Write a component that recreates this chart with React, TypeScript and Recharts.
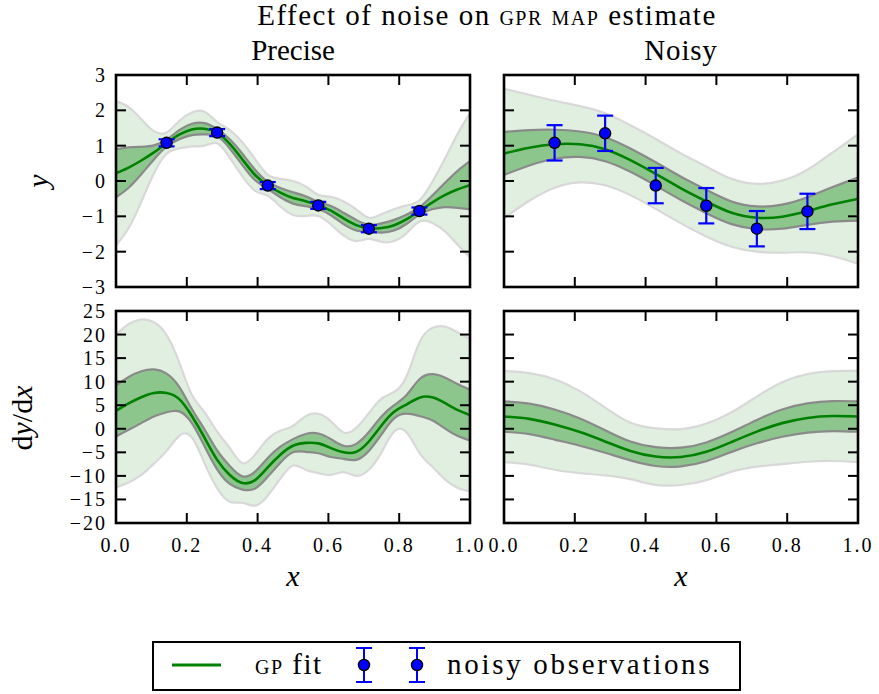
import React from 'react';
import { ComposedChart, Area, Line, Scatter, ErrorBar, XAxis, YAxis } from 'recharts';

// ---------- data ----------
const xFine = [0, 0.0357, 0.0714, 0.1071, 0.1429, 0.1786, 0.2143, 0.25, 0.2857, 0.3214, 0.3571, 0.3929, 0.4286, 0.4643, 0.5, 0.5357, 0.5714, 0.6071, 0.6429, 0.6786, 0.7143, 0.75, 0.7857, 0.8214, 0.8571, 0.8929, 0.9286, 0.9643, 1];
const xCoarse = [0, 0.0714, 0.1429, 0.2143, 0.2857, 0.3571, 0.4286, 0.5, 0.5714, 0.6429, 0.7143, 0.7857, 0.8571, 0.9286, 1];

// Precise: y
const preciseMeanY = [0.22, 0.38, 0.58, 0.81, 1.07, 1.31, 1.46, 1.48, 1.37, 1.05, 0.61, 0.17, -0.12, -0.33, -0.48, -0.57, -0.69, -0.84, -1.06, -1.25, -1.34, -1.33, -1.25, -1.08, -0.85, -0.61, -0.40, -0.24, -0.12];
const preciseSdY = [0.68, 0.57, 0.39, 0.2, 0.1, 0.13, 0.16, 0.16, 0.1, 0.13, 0.16, 0.15, 0.1, 0.13, 0.16, 0.14, 0.1, 0.13, 0.16, 0.15, 0.1, 0.13, 0.15, 0.13, 0.1, 0.19, 0.34, 0.52, 0.68];
// Precise: dy/dx
const preciseMeanD = [3.8, 5.4, 6.7, 7.6, 7.6, 6.3, 2.7, -1.9, -6.6, -9.8, -11.5, -10.9, -8.2, -5.5, -3.6, -3.0, -3.1, -4.1, -5.0, -4.9, -2.7, 0.7, 3.6, 5.2, 6.6, 6.7, 5.5, 4.0, 2.9];
const preciseSdD = [5.4, 5.6, 5.5, 5.0, 4.1, 2.6, 1.5, 1.8, 2.0, 1.9, 1.4, 1.8, 2.0, 1.7, 1.4, 1.9, 2.1, 1.9, 1.4, 1.7, 2.0, 1.9, 1.4, 2.0, 3.9, 4.9, 5.4, 5.5, 5.4];

// Noisy: y
const noisyMeanY = [0.78, 0.94, 1.04, 1.04, 0.90, 0.59, 0.20, -0.21, -0.58, -0.90, -1.04, -1.01, -0.85, -0.66, -0.51];
const noisySdY = [0.61, 0.5, 0.41, 0.36, 0.34, 0.33, 0.33, 0.33, 0.33, 0.32, 0.32, 0.34, 0.39, 0.49, 0.61];
// Noisy: dy/dx
const noisyMeanD = [2.6, 2.1, 0.9, -0.7, -2.7, -4.7, -5.9, -6.0, -4.9, -2.8, -0.6, 1.2, 2.3, 2.7, 2.6];
const noisySdD = [3.23, 3.24, 3.2, 2.9, 2.4, 2.0, 2.0, 1.98, 2.0, 2.1, 2.48, 2.9, 3.1, 3.18, 3.23];

// Observations
const obsX = [0.1429, 0.2857, 0.4286, 0.5714, 0.7143, 0.8571];
const preciseObsY = [1.08, 1.37, -0.13, -0.69, -1.35, -0.85];
const preciseObsErr = [0.1, 0.1, 0.1, 0.1, 0.1, 0.1];
const noisyObsY = [1.08, 1.35, -0.13, -0.70, -1.35, -0.86];
const noisyObsErr = [0.5, 0.5, 0.5, 0.5, 0.5, 0.5];

const xTicks = [0, 0.2, 0.4, 0.6, 0.8, 1.0];
const yTicksTop = [-3, -2, -1, 0, 1, 2, 3];
const yTicksBottom = [-20, -15, -10, -5, 0, 5, 10, 15, 20, 25];

// ---------- tables built from the arrays ----------
const buildBands = (xs: number[], m: number[], s: number[]) =>
  xs.map((x, i) => ({
    x,
    mean: m[i],
    inner: [m[i] - s[i], m[i] + s[i]],
    outer: [m[i] - 3 * s[i], m[i] + 3 * s[i]],
  }));
const buildObs = (ys: number[], es: number[]) => obsX.map((x, i) => ({ x, y: ys[i], err: es[i] }));

const tablePreciseY = buildBands(xFine, preciseMeanY, preciseSdY);
const tablePreciseD = buildBands(xFine, preciseMeanD, preciseSdD);
const tableNoisyY = buildBands(xCoarse, noisyMeanY, noisySdY);
const tableNoisyD = buildBands(xCoarse, noisyMeanD, noisySdD);
const obsPrecise = buildObs(preciseObsY, preciseObsErr);
const obsNoisy = buildObs(noisyObsY, noisyObsErr);

// ---------- layout ----------
const PAGE_W = 879;
const PAGE_H = 694;
const PW = 354;
const PH = 212;
const FONT = "'Liberation Serif', 'Times New Roman', serif";
const TICK_LEN = 10;
const TICK_FS = 20;

const fmtX = (v: number) => v.toFixed(1);
const fmtY = (v: number) => (v < 0 ? '\u2212' + Math.abs(v) : String(v));

const XTick = (props: any) => {
  const { x, y, payload, show } = props;
  return (
    <g>
      <line x1={x} x2={x} y1={y} y2={y - TICK_LEN} stroke="#000" strokeWidth={2} />
      <line x1={x} x2={x} y1={y - PH} y2={y - PH + TICK_LEN} stroke="#000" strokeWidth={2} />
      {show && (
        <text x={x} y={y + 29} textAnchor="middle" fontSize={TICK_FS} fontFamily={FONT} fill="#000" letterSpacing={2}>
          {fmtX(payload.value)}
        </text>
      )}
    </g>
  );
};

const YTick = (props: any) => {
  const { x, y, payload, show } = props;
  return (
    <g>
      <line x1={x} x2={x + TICK_LEN} y1={y} y2={y} stroke="#000" strokeWidth={2} />
      <line x1={x + PW} x2={x + PW - TICK_LEN} y1={y} y2={y} stroke="#000" strokeWidth={2} />
      {show && (
        <text x={x - 9} y={y + 7} textAnchor="end" fontSize={TICK_FS} fontFamily={FONT} fill="#000" letterSpacing={2}>
          {fmtY(payload.value)}
        </text>
      )}
    </g>
  );
};

const Dot = (p: any) => (
  <circle cx={p.cx} cy={p.cy} r={5.6} fill="#0000ff" stroke="#000" strokeWidth={1.3} />
);

type PanelProps = {
  left: number;
  top: number;
  data: any[];
  obs?: any[];
  yDomain: [number, number];
  yTicks: number[];
  showX: boolean;
  showY: boolean;
};

const CURVE = 'natural';

const Panel = ({ left, top, data, obs, yDomain, yTicks, showX, showY }: PanelProps) => {
  const yAxisW = 40;
  const xAxisH = 40;
  const margin = {
    left: left - yAxisW,
    top: top,
    right: PAGE_W - (left + PW),
    bottom: PAGE_H - (top + PH) - xAxisH,
  };
  return (
    <div style={{ position: 'absolute', left: 0, top: 0 }}>
      <ComposedChart width={PAGE_W} height={PAGE_H} data={data} margin={margin}>
        <Area
          type={CURVE}
          dataKey="outer"
          fill="#e1efe1"
          fillOpacity={1}
          stroke="#d8d8d8"
          strokeWidth={2.2}
          dot={false}
          activeDot={false}
          isAnimationActive={false}
        />
        <Area
          type={CURVE}
          dataKey="inner"
          fill="#8dc68d"
          fillOpacity={1}
          stroke="#8a8a8a"
          strokeWidth={2.2}
          dot={false}
          activeDot={false}
          isAnimationActive={false}
        />
        <Line
          type={CURVE}
          dataKey="mean"
          stroke="#008000"
          strokeWidth={2.6}
          dot={false}
          activeDot={false}
          isAnimationActive={false}
        />
        {obs && (
          <Scatter data={obs} dataKey="y" fill="#0000ff" shape={Dot} isAnimationActive={false}>
            <ErrorBar dataKey="err" direction="y" width={8} stroke="#0000ff" strokeWidth={2.2} />
          </Scatter>
        )}
        <XAxis
          type="number"
          dataKey="x"
          domain={[0, 1]}
          ticks={xTicks}
          interval={0}
          allowDataOverflow
          height={xAxisH}
          tickSize={0}
          tickMargin={0}
          axisLine={false}
          tickLine={false}
          tick={(p: any) => <XTick {...p} show={showX} />}
        />
        <YAxis
          type="number"
          domain={yDomain}
          ticks={yTicks}
          interval={0}
          allowDataOverflow
          width={yAxisW}
          tickSize={0}
          tickMargin={0}
          axisLine={false}
          tickLine={false}
          tick={(p: any) => <YTick {...p} show={showY} />}
        />
      </ComposedChart>
    </div>
  );
};

const LeftX = 116;
const RightX = 504;
const TopY = 75;
const BotY = 311;

export default function App() {
  return (
    <div
      style={{
        position: 'absolute',
        left: 0,
        top: 0,
        width: PAGE_W,
        height: PAGE_H,
        background: '#fff',
        overflow: 'hidden',
        fontFamily: FONT,
      }}
    >
      <Panel left={LeftX} top={TopY} data={tablePreciseY} obs={obsPrecise} yDomain={[-3, 3]} yTicks={yTicksTop} showX={false} showY />
      <Panel left={RightX} top={TopY} data={tableNoisyY} obs={obsNoisy} yDomain={[-3, 3]} yTicks={yTicksTop} showX={false} showY={false} />
      <Panel left={LeftX} top={BotY} data={tablePreciseD} yDomain={[-20, 25]} yTicks={yTicksBottom} showX showY />
      <Panel left={RightX} top={BotY} data={tableNoisyD} yDomain={[-20, 25]} yTicks={yTicksBottom} showX showY={false} />

      <svg
        width={PAGE_W}
        height={PAGE_H}
        style={{ position: 'absolute', left: 0, top: 0, pointerEvents: 'none' }}
        fontFamily={FONT}
      >
        {[
          [LeftX, TopY],
          [RightX, TopY],
          [LeftX, BotY],
          [RightX, BotY],
        ].map(([l, t], i) => (
          <rect key={i} x={l} y={t} width={PW} height={PH} fill="none" stroke="#000" strokeWidth={2.6} />
        ))}

        <text x={487} y={25} textAnchor="middle" fontSize={29} letterSpacing={1.5} fill="#000">
          Effect of noise on <tspan style={{ fontVariant: 'small-caps' }}>gpr map</tspan> estimate
        </text>
        <text x={LeftX + PW / 2} y={60} textAnchor="middle" fontSize={29} fill="#000">
          Precise
        </text>
        <text x={RightX + PW / 2} y={60} textAnchor="middle" fontSize={29} letterSpacing={0.8} fill="#000">
          Noisy
        </text>

        <text
          x={0}
          y={0}
          transform={`translate(48, ${TopY + PH / 2}) rotate(-90)`}
          textAnchor="middle"
          fontSize={30}
          fontStyle="italic"
          fill="#000"
        >
          y
        </text>
        <text
          x={0}
          y={0}
          transform={`translate(32, ${BotY + 107}) rotate(-90)`}
          textAnchor="middle"
          fontSize={30}
          fill="#000"
        >
          d<tspan fontStyle="italic">y</tspan>/d<tspan fontStyle="italic">x</tspan>
        </text>
        <text x={LeftX + PW / 2} y={586} textAnchor="middle" fontSize={30} fontStyle="italic" fill="#000">
          x
        </text>
        <text x={RightX + PW / 2} y={586} textAnchor="middle" fontSize={30} fontStyle="italic" fill="#000">
          x
        </text>

        {/* legend */}
        <rect x={153} y={642} width={587} height={48} fill="#fff" stroke="#000" strokeWidth={2} />
        <line x1={172} x2={221} y1={665} y2={665} stroke="#008000" strokeWidth={3} />
        <text x={255} y={674} fontSize={29} letterSpacing={1.5} fill="#000">
          <tspan style={{ fontVariant: 'small-caps' }}>gp</tspan> fit
        </text>
        {[364, 417].map((cx) => (
          <g key={cx}>
            <line x1={cx} x2={cx} y1={648} y2={682} stroke="#0000ff" strokeWidth={2} />
            <line x1={cx - 8} x2={cx + 8} y1={648} y2={648} stroke="#0000ff" strokeWidth={2} />
            <line x1={cx - 8} x2={cx + 8} y1={682} y2={682} stroke="#0000ff" strokeWidth={2} />
            <circle cx={cx} cy={665} r={5.6} fill="#0000ff" stroke="#000" strokeWidth={1.3} />
          </g>
        ))}
        <text x={447} y={674} fontSize={29} letterSpacing={2.7} fill="#000">
          noisy observations
        </text>
      </svg>
    </div>
  );
}
